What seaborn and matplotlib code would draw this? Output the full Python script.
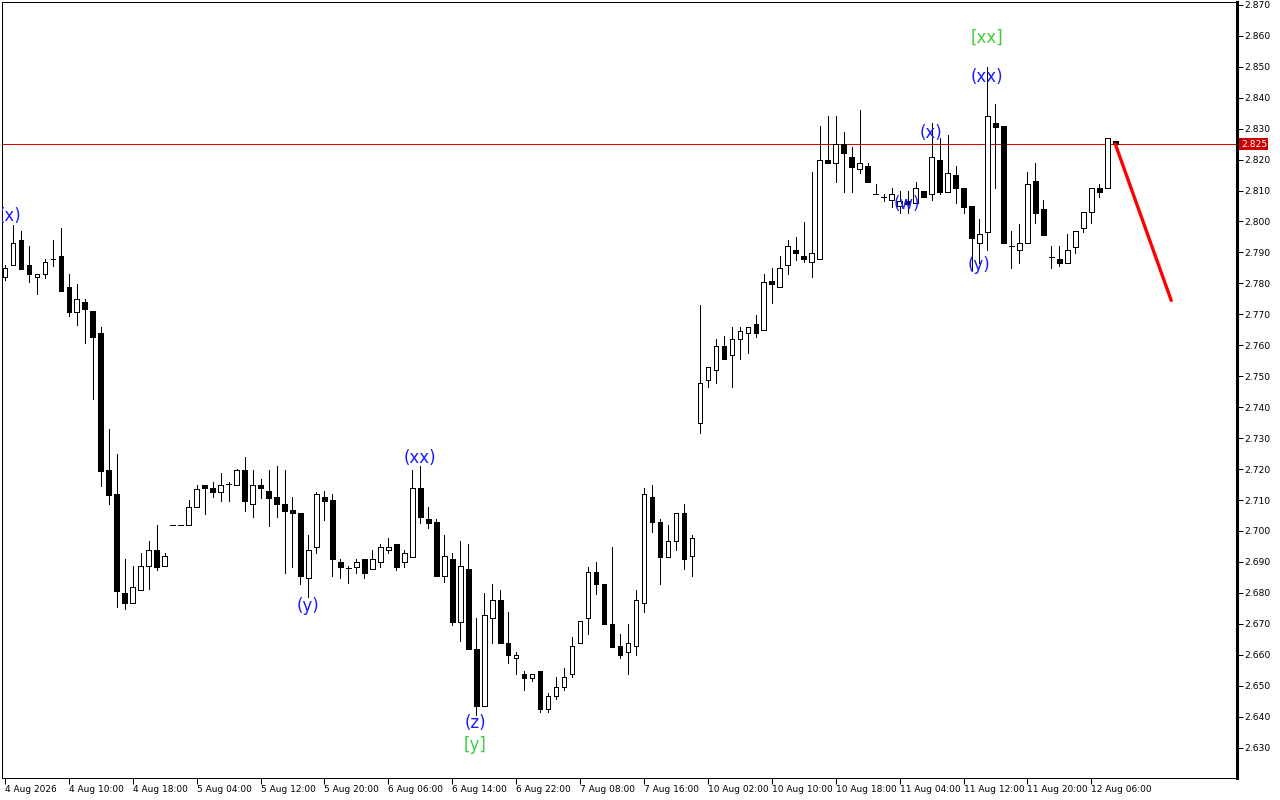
import numpy as np
import matplotlib
matplotlib.use("Agg")
import matplotlib.pyplot as plt
import seaborn as sns

# ---------------- data (hourly candles) ----------------
opens = [2.7820, 2.7859, 2.7940, 2.7859, 2.7820, 2.7830, 2.7879, 2.7888, 2.7788, 2.7707,
         2.7740, 2.7710, 2.7640, 2.7197, 2.7119, 2.6800, 2.6768, 2.6809, 2.6886, 2.6939,
         2.6886, 2.7020, 2.7020, 2.7020, 2.7078, 2.7149, 2.7139, 2.7126, 2.7152, 2.7149,
         2.7197, 2.7087, 2.7149, 2.7130, 2.7110, 2.7087, 2.7068, 2.7058, 2.6848, 2.6948,
         2.7110, 2.7100, 2.6900, 2.6880, 2.6884, 2.6910, 2.6877, 2.6900, 2.6939, 2.6958,
         2.6900, 2.6916, 2.7139, 2.7039, 2.7029, 2.6855, 2.6910, 2.6706, 2.6877, 2.6619,
         2.6435, 2.6719, 2.6777, 2.6638, 2.6590, 2.6538, 2.6525, 2.6548, 2.6425, 2.6467,
         2.6496, 2.6538, 2.6638, 2.6719, 2.6868, 2.6829, 2.6700, 2.6629, 2.6609, 2.6629,
         2.6768, 2.7110, 2.7029, 2.6916, 2.6968, 2.7058, 2.6919, 2.7349, 2.7488, 2.7520,
         2.7598, 2.7569, 2.7620, 2.7640, 2.7669, 2.7649, 2.7807, 2.7788, 2.7859, 2.7908,
         2.7888, 2.7869, 2.7879, 2.8198, 2.8188, 2.8250, 2.8208, 2.8169, 2.8179, 2.8089,
         2.8079, 2.8069, 2.8050, 2.8066, 2.8059, 2.8098, 2.8089, 2.8198, 2.8095, 2.8150,
         2.8108, 2.8050, 2.7930, 2.7966, 2.8318, 2.8308, 2.7921, 2.7908, 2.7930, 2.8130,
         2.8040, 2.7885, 2.7879, 2.7866, 2.7917, 2.7979, 2.8030, 2.8108, 2.8108, 2.8260]
highs = [2.7860, 2.7989, 2.7969, 2.7921, 2.7830, 2.7878, 2.7940, 2.7979, 2.7830, 2.7798,
         2.7749, 2.7710, 2.7659, 2.7330, 2.7249, 2.6910, 2.6886, 2.6929, 2.6968, 2.7020,
         2.6929, 2.7020, 2.7020, 2.7100, 2.7149, 2.7149, 2.7158, 2.7187, 2.7158, 2.7200,
         2.7239, 2.7197, 2.7168, 2.7197, 2.7210, 2.7197, 2.7110, 2.7058, 2.6987, 2.7125,
         2.7130, 2.7119, 2.6910, 2.6887, 2.6910, 2.6910, 2.6939, 2.6958, 2.6977, 2.6958,
         2.6939, 2.7197, 2.7210, 2.7078, 2.7039, 2.6987, 2.6929, 2.6968, 2.6958, 2.6719,
         2.6800, 2.6829, 2.6809, 2.6738, 2.6609, 2.6548, 2.6538, 2.6548, 2.6477, 2.6528,
         2.6558, 2.6658, 2.6710, 2.6884, 2.6900, 2.6829, 2.6948, 2.6667, 2.6700, 2.6809,
         2.7139, 2.7149, 2.7039, 2.7020, 2.7058, 2.7087, 2.6987, 2.7730, 2.7530, 2.7620,
         2.7630, 2.7659, 2.7659, 2.7659, 2.7698, 2.7830, 2.7850, 2.7888, 2.7940, 2.7950,
         2.7998, 2.8159, 2.8308, 2.8340, 2.8340, 2.8289, 2.8240, 2.8360, 2.8188, 2.8121,
         2.8089, 2.8108, 2.8098, 2.8098, 2.8127, 2.8098, 2.8318, 2.8269, 2.8279, 2.8179,
         2.8108, 2.8050, 2.8008, 2.8499, 2.8379, 2.8308, 2.7969, 2.7992, 2.8159, 2.8188,
         2.8069, 2.7921, 2.7921, 2.7959, 2.7969, 2.8030, 2.8108, 2.8121, 2.8269, 2.8260]
lows = [2.7810, 2.7859, 2.7847, 2.7804, 2.7766, 2.7817, 2.7856, 2.7775, 2.7694, 2.7666,
        2.7607, 2.7426, 2.7146, 2.7087, 2.6755, 2.6748, 2.6768, 2.6809, 2.6811, 2.6874,
        2.6886, 2.7020, 2.7020, 2.7020, 2.7078, 2.7055, 2.7110, 2.7097, 2.7097, 2.7149,
        2.7064, 2.7045, 2.7107, 2.7017, 2.7045, 2.6865, 2.6884, 2.6828, 2.6787, 2.6929,
        2.7036, 2.6855, 2.6848, 2.6832, 2.6865, 2.6848, 2.6877, 2.6884, 2.6929, 2.6874,
        2.6884, 2.6916, 2.7026, 2.7010, 2.6855, 2.6836, 2.6696, 2.6645, 2.6619, 2.6406,
        2.6435, 2.6638, 2.6638, 2.6574, 2.6538, 2.6487, 2.6516, 2.6416, 2.6416, 2.6458,
        2.6487, 2.6528, 2.6638, 2.6667, 2.6797, 2.6700, 2.6625, 2.6590, 2.6538, 2.6600,
        2.6738, 2.6997, 2.6828, 2.6916, 2.6939, 2.6877, 2.6855, 2.7317, 2.7465, 2.7478,
        2.7556, 2.7465, 2.7556, 2.7575, 2.7627, 2.7649, 2.7737, 2.7788, 2.7830, 2.7875,
        2.7869, 2.7820, 2.7879, 2.8188, 2.8127, 2.8095, 2.8095, 2.8156, 2.8127, 2.8089,
        2.8066, 2.8047, 2.8027, 2.8027, 2.8059, 2.8079, 2.8069, 2.8089, 2.8095, 2.8059,
        2.8027, 2.7843, 2.7866, 2.7908, 2.8108, 2.7930, 2.7850, 2.7866, 2.7930, 2.7995,
        2.7956, 2.7850, 2.7856, 2.7866, 2.7898, 2.7966, 2.7995, 2.8079, 2.8108, 2.8247]
closes = [2.7850, 2.7930, 2.7847, 2.7830, 2.7830, 2.7869, 2.7879, 2.7775, 2.7707, 2.7749,
          2.7717, 2.7627, 2.7194, 2.7116, 2.6806, 2.6768, 2.6819, 2.6886, 2.6939, 2.6883,
          2.6918, 2.7020, 2.7020, 2.7078, 2.7136, 2.7139, 2.7126, 2.7149, 2.7152, 2.7197,
          2.7097, 2.7149, 2.7139, 2.7107, 2.7087, 2.7064, 2.7058, 2.6855, 2.6939, 2.7119,
          2.7097, 2.6910, 2.6884, 2.6880, 2.6900, 2.6865, 2.6910, 2.6948, 2.6948, 2.6884,
          2.6929, 2.7139, 2.7045, 2.7026, 2.6855, 2.6919, 2.6706, 2.6887, 2.6619, 2.6435,
          2.6729, 2.6777, 2.6638, 2.6600, 2.6600, 2.6525, 2.6538, 2.6425, 2.6467, 2.6496,
          2.6528, 2.6629, 2.6710, 2.6868, 2.6829, 2.6700, 2.6625, 2.6600, 2.6638, 2.6777,
          2.7119, 2.7029, 2.6916, 2.6968, 2.7058, 2.6910, 2.6977, 2.7478, 2.7530, 2.7598,
          2.7556, 2.7620, 2.7646, 2.7659, 2.7640, 2.7804, 2.7798, 2.7850, 2.7921, 2.7898,
          2.7879, 2.7898, 2.8198, 2.8188, 2.8250, 2.8221, 2.8176, 2.8188, 2.8127, 2.8089,
          2.8079, 2.8089, 2.8066, 2.8057, 2.8108, 2.8079, 2.8208, 2.8095, 2.8156, 2.8108,
          2.8047, 2.7947, 2.7959, 2.8340, 2.8305, 2.7930, 2.7921, 2.7930, 2.8121, 2.8027,
          2.7956, 2.7885, 2.7866, 2.7908, 2.7969, 2.8030, 2.8108, 2.8095, 2.8269, 2.8250]

tick_labels = ["4 Aug 2026", "4 Aug 10:00", "4 Aug 18:00", "5 Aug 04:00", "5 Aug 12:00",
               "5 Aug 20:00", "6 Aug 06:00", "6 Aug 14:00", "6 Aug 22:00", "7 Aug 08:00",
               "7 Aug 16:00", "10 Aug 02:00", "10 Aug 10:00", "10 Aug 18:00", "11 Aug 04:00",
               "11 Aug 12:00", "11 Aug 20:00", "12 Aug 06:00"]
bars_per_tick = 8

current_price = 2.825
forecast_bars = [139, 146]
forecast_prices = [2.825, 2.7745]

wave_texts = ["(x)", "(y)", "(xx)", "(z)", "[y]", "(w)", "(x)", "(xx)", "[xx]", "(y)"]
wave_bars = [0.6, 37.9, 51.9, 58.9, 58.9, 112.9, 115.9, 122.9, 122.9, 121.9]
wave_prices = [2.8017, 2.6757, 2.7236, 2.6380, 2.6309, 2.8055, 2.8286, 2.8467, 2.8592, 2.7859]
wave_colors = ["blue", "blue", "blue", "blue", "green", "blue", "blue", "blue", "green", "blue"]

# ---------------- plot ----------------
sns.set_theme(style="white")
plt.rcParams['font.family'] = ['DejaVu Sans']

fig = plt.figure(figsize=(12.8, 8), dpi=100)
ax = fig.add_axes([0.0015, 0.0275, 0.965, 0.970])

o = np.array(opens); h = np.array(highs); l = np.array(lows); c = np.array(closes)
idx = np.arange(len(o))
W = 0.58
PX = 0.72  # one pixel in points at 100 dpi

ax.vlines(idx, l, h, color="black", linewidth=PX, zorder=2, antialiased=False)
up = c > o
dn = c < o
eq = c == o
ax.bar(idx[up], (c - o)[up], bottom=o[up], width=W, facecolor="white",
       edgecolor="black", linewidth=PX, zorder=3, antialiased=False)
ax.bar(idx[dn], (o - c)[dn], bottom=c[dn], width=W, facecolor="black",
       edgecolor="black", linewidth=PX, zorder=3, antialiased=False)
ax.hlines(o[eq], idx[eq] - W / 2, idx[eq] + W / 2, color="black", linewidth=PX,
          zorder=3, antialiased=False)

ax.axhline(current_price, color="#e00000", linewidth=PX, zorder=1)
sns.lineplot(x=forecast_bars, y=forecast_prices, color="#ff0000", linewidth=2.4,
             ax=ax, zorder=4)

cmap = {"blue": "#1a1aff", "green": "#3ccf3c"}
for t, b, p, col in zip(wave_texts, wave_bars, wave_prices, wave_colors):
    ax.text(b, p, t, color=cmap[col], fontsize=12, ha="center", va="center",
            clip_on=True, zorder=5)

ax.set_xlim(-0.375, 154.25)
ax.set_ylim(2.6202, 2.8709)

ax.yaxis.tick_right()
ax.set_yticks(np.round(np.arange(2.630, 2.8701, 0.010), 3))
ax.set_yticklabels([f"{v:.3f}" for v in np.arange(2.630, 2.8701, 0.010)])
ax.tick_params(axis="y", direction="out", length=4, width=PX, labelsize=6.6, pad=1,
               colors="black", right=True, left=False)

ax.set_xticks(np.arange(len(tick_labels)) * bars_per_tick)
ax.set_xticklabels(tick_labels)
ax.tick_params(axis="x", direction="out", length=4, width=PX, labelsize=6.5, pad=1,
               colors="black", bottom=True)
for lbl in ax.get_xticklabels():
    lbl.set_horizontalalignment("left")

for side in ["left", "top", "bottom"]:
    ax.spines[side].set_linewidth(PX)
    ax.spines[side].set_color("black")
ax.spines["right"].set_linewidth(2.2)
ax.spines["right"].set_color("black")
ax.grid(False)
ax.set_xlabel("")
ax.set_ylabel("")
if ax.get_legend():
    ax.get_legend().remove()

ax.text(1.003, current_price, f"{current_price:.3f}", transform=ax.get_yaxis_transform(),
        color="white", fontsize=6.6, ha="left", va="center", zorder=6, clip_on=False,
        bbox=dict(boxstyle="square,pad=0.15", facecolor="#cc0000", edgecolor="none"))

fig.savefig("out.png", dpi=100)
